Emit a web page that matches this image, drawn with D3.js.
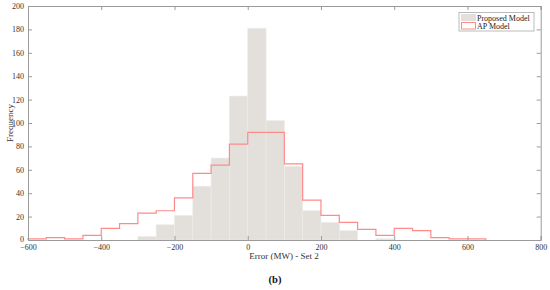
<!DOCTYPE html>
<html><head><meta charset="utf-8">
<script src="https://cdn.jsdelivr.net/npm/d3@7/dist/d3.min.js"></script>
<style>body{margin:0;background:#fff}svg{display:block}text{font-family:"Liberation Serif","DejaVu Serif",serif}</style>
</head><body>
<script>
// Bin edges (MW), width 50
const binStarts = [-600,-550,-500,-450,-400,-350,-300,-250,-200,-150,-100,-50,0,50,100,150,200,250,300,350,400,450,500,550,600];
const proposedCounts = [0,0,0,0,0,0,3,13,21,46,70,123,181,102,63,25,15,8,0,1,0,0,0,0,0];
const apCounts       = [1,2,1,4,10,14,23,25,36,57,64,82,92,92,65,34,21,15,9,4,10,8,2,1,1];
const xTicks = [-600,-400,-200,0,200,400,600,800];
const yTicks = [0,20,40,60,80,100,120,140,160,180,200];
const binWidth = 50;

const W=550,H=290;
const svg=d3.select("body").append("svg").attr("width",W).attr("height",H);
const x=d3.scaleLinear().domain([-600,800]).range([28,540.7]);
const y=d3.scaleLinear().domain([0,200]).range([240,6]);
const axisColor="#9a9a9a";

// proposed bars
svg.append("g").selectAll("rect").data(binStarts.map((s,i)=>({s,v:proposedCounts[i]})).filter(d=>d.v>0))
 .join("rect")
 .attr("x",d=>x(d.s)).attr("width",d=>x(d.s+binWidth)-x(d.s))
 .attr("y",d=>y(d.v)).attr("height",d=>y(0)-y(d.v))
 .attr("fill","#e3e0db").attr("stroke","#ecebe8").attr("stroke-width",0.6);

// AP stairs
const pts=[[binStarts[0],0]];
binStarts.forEach((s,i)=>{pts.push([s,apCounts[i]]);pts.push([s+binWidth,apCounts[i]]);});
pts.push([binStarts[binStarts.length-1]+binWidth,0]);
svg.append("path").attr("d",d3.line().x(d=>x(d[0])).y(d=>y(d[1]))(pts))
 .attr("fill","none").attr("stroke","#ff8a8a").attr("stroke-width",1.2);

// axes
const gB=svg.append("g").attr("transform","translate(0,240)")
 .call(d3.axisBottom(x).tickValues(xTicks).tickSize(-4).tickPadding(4));
const gT=svg.append("g").attr("transform","translate(0,6)")
 .call(d3.axisTop(x).tickValues(xTicks).tickSize(-4).tickFormat(""));
const gL=svg.append("g").attr("transform","translate(28,0)")
 .call(d3.axisLeft(y).tickValues(yTicks).tickSize(-4).tickPadding(4));
const gR=svg.append("g").attr("transform","translate(540.7,0)")
 .call(d3.axisRight(y).tickValues(yTicks).tickSize(-4).tickFormat(""));
[gB,gT,gL,gR].forEach(g=>{
 g.select(".domain").attr("stroke",axisColor).attr("stroke-width",1);
 g.selectAll(".tick line").attr("stroke",axisColor);
 g.selectAll(".tick text").attr("fill","#333").style("font-size","8px").style("font-family","Liberation Serif");
});
gL.selectAll(".tick text").filter(d=>d===0).attr("dy","0.2em");

// labels
svg.append("text").attr("x",284).attr("y",259).attr("text-anchor","middle")
 .style("font-size","9px").attr("fill","#333").text("Error (MW) - Set 2");
svg.append("text").attr("transform","translate(13,123) rotate(-90)").attr("text-anchor","middle")
 .style("font-size","9px").attr("fill","#333").text("Frequency");
svg.append("text").attr("x",275).attr("y",283).attr("text-anchor","middle")
 .style("font-size","10.5px").style("font-weight","bold").attr("fill","#111").text("(b)");

// legend
const lg=svg.append("g");
lg.append("rect").attr("x",459).attr("y",12.5).attr("width",75).attr("height",18.5)
 .attr("fill","#fff").attr("stroke","#aaa").attr("stroke-width",0.8);
lg.append("rect").attr("x",461).attr("y",14).attr("width",15).attr("height",7).attr("fill","#e3e0db");
lg.append("rect").attr("x",461.5).attr("y",22.5).attr("width",14).attr("height",6.5).attr("fill","#fff")
 .attr("stroke","#ff8a8a").attr("stroke-width",1);
lg.append("text").attr("x",477).attr("y",20.5).style("font-size","8px").attr("fill","#222").text("Proposed Model");
lg.append("text").attr("x",477).attr("y",29).style("font-size","8px").attr("fill","#222").text("AP Model");
</script>
</body></html>
